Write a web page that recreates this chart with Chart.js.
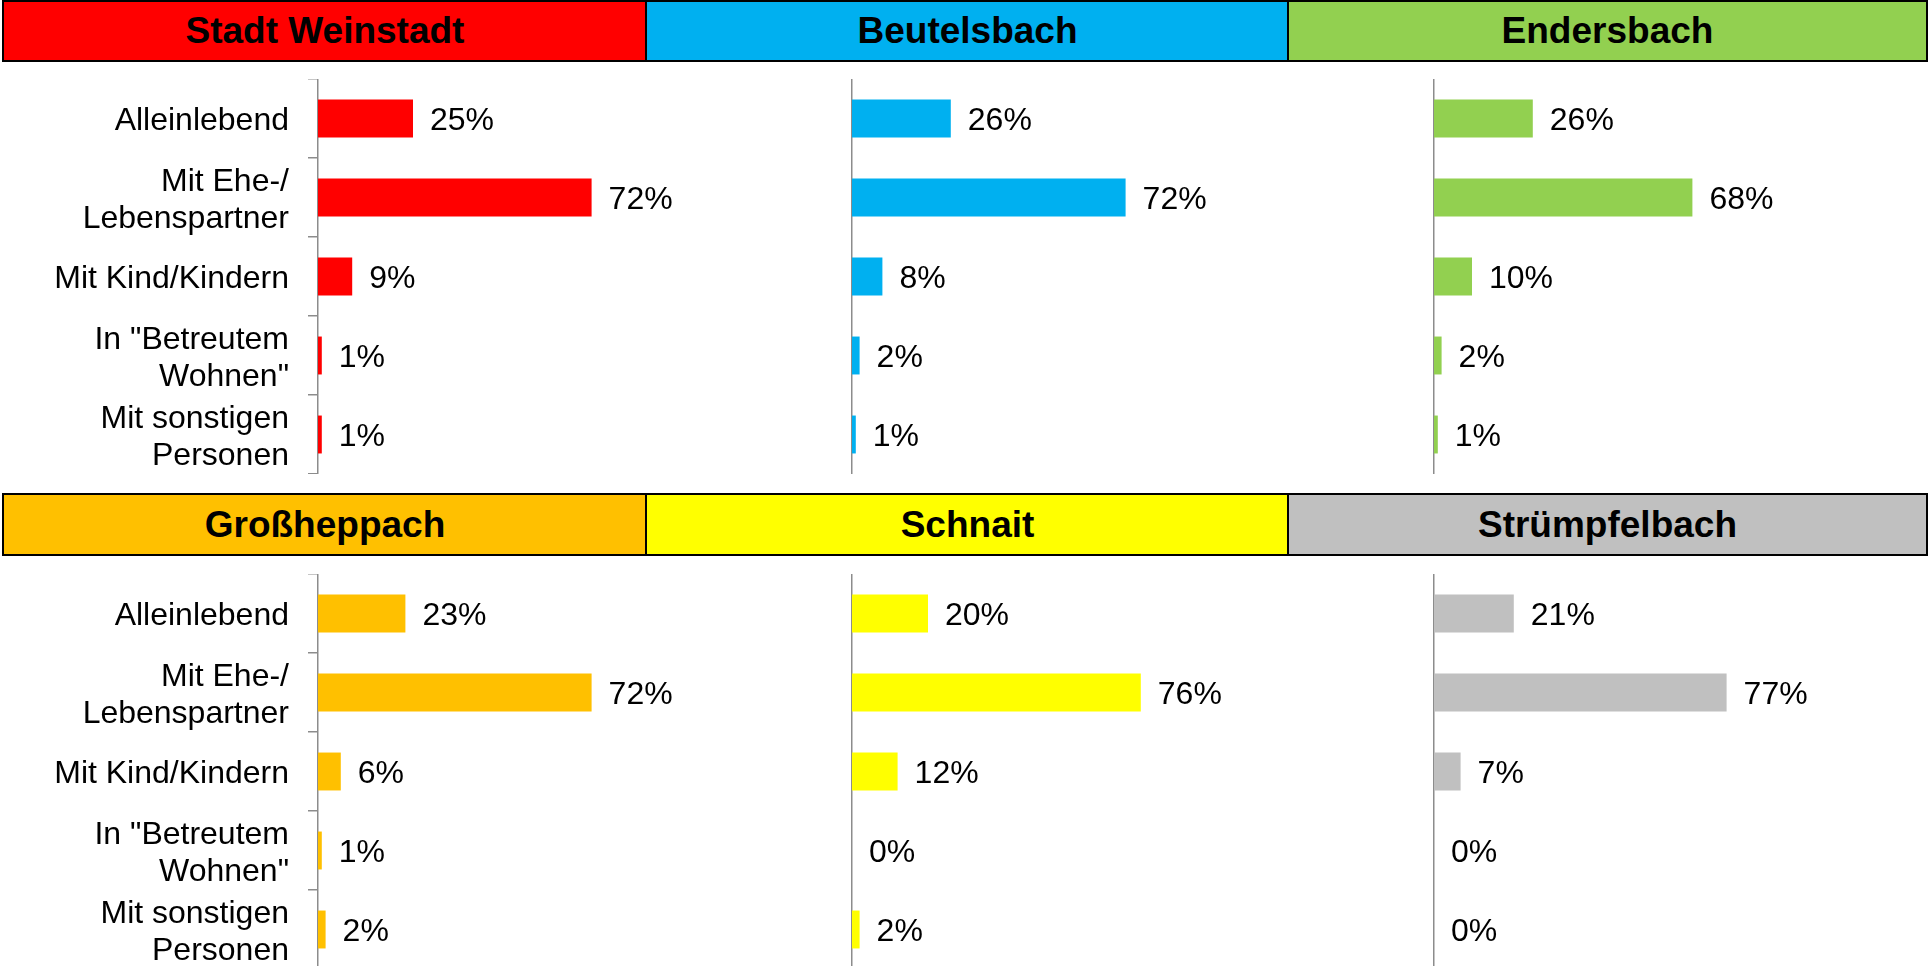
<!DOCTYPE html>
<html lang="de">
<head>
<meta charset="UTF-8">
<title>Haushaltsformen nach Stadtteil</title>
<script src="https://cdn.jsdelivr.net/npm/chart.js@4.4.0/dist/chart.umd.min.js"></script>
<style>
    html, body { margin: 0; padding: 0; overflow: hidden; background: #fff; }
    body { width: 1929px; height: 966px; position: relative; font-family: Arial, "Liberation Sans", sans-serif; }
    .head {
        position: absolute; box-sizing: border-box; border: 2px solid #000;
        display: flex; align-items: center; justify-content: center;
        font-weight: bold; font-size: 37px; color: #000;
    }
    .box { position: absolute; }
</style>
</head>
<body>

<script>
    // Werte (Prozent)
    const categories = ['Alleinlebend', ['Mit Ehe-/', 'Lebenspartner'], 'Mit Kind/Kindern',
        ['In "Betreutem', 'Wohnen"'], ['Mit sonstigen', 'Personen']];

    const districts = ['Stadt Weinstadt', 'Beutelsbach', 'Endersbach', 'Großheppach', 'Schnait', 'Strümpfelbach'];

    const weinstadt = [25, 72, 9, 1, 1];
    const beutelsbach = [26, 72, 8, 2, 1];
    const endersbach = [26, 68, 10, 2, 1];
    const grossheppach = [23, 72, 6, 1, 2];
    const schnait = [20, 76, 12, 0, 2];
    const struempfelbach = [21, 77, 7, 0, 0];

    const series = [weinstadt, beutelsbach, endersbach, grossheppach, schnait, struempfelbach];
    const colors = ['#FF0000', '#00B0F0', '#92D050', '#FFC000', '#FFFF00', '#C0C0C0'];

    const FONT = 'Arial, "Liberation Sans", sans-serif';

    // layout of the panels
    const headCols = [[2, 646], [645, 645], [1287, 641]];
    const headRows = [[0, 62], [493, 63]];
    const axisX = [318, 852, 1434];
    const chartTop = [79, 574];
    const chartH = 395;
    const plotW = 380;

    const valueLabels = {
        id: 'valueLabels',
        afterDatasetsDraw(chart) {
            const ctx = chart.ctx;
            const meta = chart.getDatasetMeta(0);
            const vals = chart.data.datasets[0].data;
            ctx.save();
            ctx.font = '32px ' + FONT;
            ctx.fillStyle = '#000';
            ctx.textAlign = 'left';
            ctx.textBaseline = 'middle';
            meta.data.forEach((bar, i) => {
                ctx.fillText(vals[i] + '%', bar.x + 17, bar.y + 3);
            });
            ctx.restore();
        }
    };

    districts.forEach((name, k) => {
        const row = Math.floor(k / 3);
        const col = k % 3;

        const head = document.createElement('div');
        head.className = 'head';
        head.textContent = name;
        head.style.left = headCols[col][0] + 'px';
        head.style.width = headCols[col][1] + 'px';
        head.style.top = headRows[row][0] + 'px';
        head.style.height = headRows[row][1] + 'px';
        head.style.background = colors[k];
        document.body.appendChild(head);

        const yw = col === 0 ? axisX[0] : 10;
        const box = document.createElement('div');
        box.className = 'box';
        box.style.left = (axisX[col] - yw) + 'px';
        box.style.top = chartTop[row] + 'px';
        box.style.width = (yw + plotW) + 'px';
        box.style.height = chartH + 'px';
        const canvas = document.createElement('canvas');
        box.appendChild(canvas);
        document.body.appendChild(box);

        new Chart(canvas, {
            type: 'bar',
            data: {
                labels: categories,
                datasets: [{
                    data: series[k],
                    backgroundColor: colors[k],
                    barPercentage: 0.48,
                    categoryPercentage: 1
                }]
            },
            options: {
                indexAxis: 'y',
                responsive: true,
                maintainAspectRatio: false,
                animation: false,
                layout: { padding: 0 },
                plugins: {
                    legend: { display: false },
                    tooltip: { enabled: false }
                },
                scales: {
                    x: { display: false, min: 0, max: 100 },
                    y: {
                        grid: {
                            drawOnChartArea: false,
                            drawTicks: col === 0,
                            tickLength: 10,
                            color: '#8c8c8c',
                            lineWidth: 1.5
                        },
                        border: { color: '#8c8c8c', width: 1.5 },
                        ticks: {
                            display: col === 0,
                            padding: 19,
                            labelOffset: 3,
                            color: '#000',
                            font: { size: 32, family: FONT, lineHeight: 1.15 }
                        },
                        afterFit(scale) {
                            scale.width = yw;
                            scale.paddingTop = 0;
                            scale.paddingBottom = 0;
                        }
                    }
                }
            },
            plugins: [valueLabels]
        });
    });
</script>
</body>
</html>
